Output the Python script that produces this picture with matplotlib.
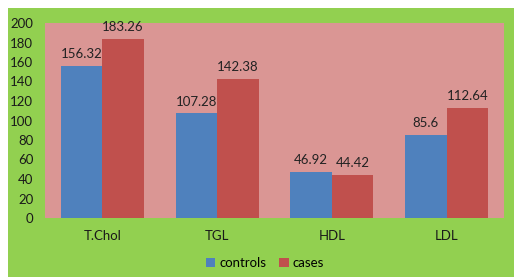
import matplotlib.pyplot as plt
import numpy as np

categories = ["T.Chol", "TGL", "HDL", "LDL"]
controls = [156.32, 107.28, 46.92, 85.6]
cases = [183.26, 142.38, 44.42, 112.64]
yticks = [0, 20, 40, 60, 80, 100, 120, 140, 160, 180, 200]

plt.rcParams["font.family"] = ["Lato", "DejaVu Sans"]

fig = plt.figure(figsize=(5.14, 2.77), dpi=100)
fig.patch.set_facecolor("white")

# green chart area, leaving a thin white strip top/left
bg = fig.add_axes([8 / 514, 0, 1 - 8 / 514, 1 - 8 / 277], zorder=-1)
bg.set_facecolor("#92D050")
bg.set_xticks([])
bg.set_yticks([])
for s in bg.spines.values():
    s.set_visible(False)

ax = fig.add_axes([45 / 514, 1 - 218 / 277, 459 / 514, 195 / 277])
ax.set_facecolor("#DA9694")

x = np.arange(len(categories))
w = 0.362
b1 = ax.bar(x - w / 2, controls, w, color="#4F81BD", label="controls")
b2 = ax.bar(x + w / 2, cases, w, color="#C0504D", label="cases")

for bars, vals in ((b1, controls), (b2, cases)):
    for r, v in zip(bars, vals):
        ax.text(r.get_x() + r.get_width() / 2, v + 6, f"{v:g}",
                ha="center", va="bottom", fontsize=9.5, color="#222222")

ax.set_xlim(-0.5, 3.5)
ax.set_ylim(0, 200)
ax.set_yticks(yticks)
ax.set_xticks(x)
ax.set_xticklabels(categories)
ax.tick_params(length=0, labelsize=9.5, colors="#1a1a1a")
ax.tick_params(axis="x", pad=9)
ax.tick_params(axis="y", pad=8.5)
for s in ax.spines.values():
    s.set_visible(False)

fig.legend(handles=[b1, b2], loc="center", bbox_to_anchor=(265 / 514, 1 - 263 / 277),
           ncol=2, frameon=False, fontsize=9.5, handlelength=0.7, handleheight=0.7,
           handletextpad=0.3, columnspacing=1.0)

fig.savefig("out.png", dpi=100, facecolor=fig.get_facecolor())
